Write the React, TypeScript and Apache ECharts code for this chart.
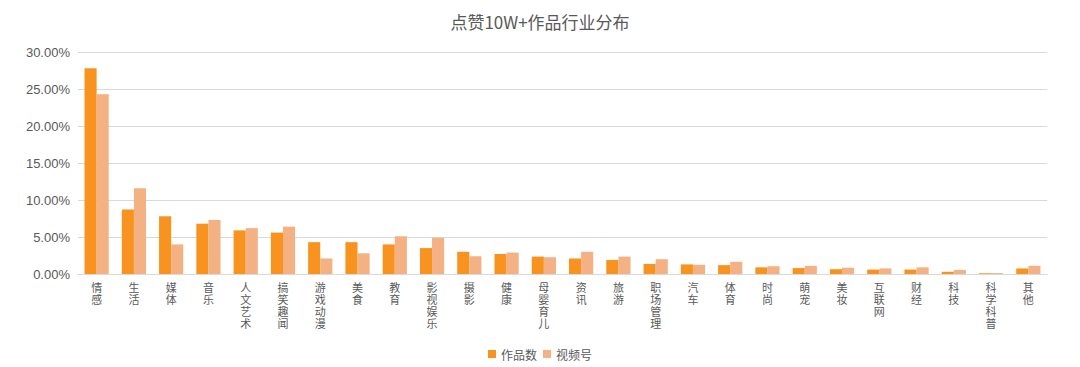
import React, { useEffect, useRef } from "react";
import * as echarts from "echarts";

const categories = ["情感","生活","媒体","音乐","人文艺术","搞笑趣闻","游戏动漫","美食","教育","影视娱乐","摄影","健康","母婴育儿","资讯","旅游","职场管理","汽车","体育","时尚","萌宠","美妆","互联网","财经","科技","科学科普","其他"];
const worksCount = [27.8,8.7,7.8,6.8,5.9,5.6,4.3,4.3,4.0,3.5,3.0,2.7,2.35,2.1,1.9,1.36,1.3,1.2,0.9,0.8,0.65,0.6,0.6,0.3,0.1,0.75];
const channels = [24.3,11.6,4.0,7.3,6.2,6.4,2.1,2.8,5.1,4.9,2.4,2.9,2.27,3.0,2.35,2.0,1.25,1.65,1.05,1.1,0.85,0.75,0.9,0.55,0.12,1.1];
const seriesNames = ["作品数", "视频号"];
const titleText = "点赞10W+作品行业分布";

export default function App() {
  const ref = useRef<HTMLDivElement>(null);
  useEffect(() => {
    const chart = echarts.init(ref.current!, undefined, { renderer: "svg" });
    const font = "'Noto Sans CJK SC', 'Noto Sans', sans-serif";
    chart.setOption({
      animation: false,
      textStyle: { fontFamily: font },
      title: {
        text: titleText,
        left: "center",
        top: 0,
        textStyle: { fontSize: 17, fontWeight: "normal", color: "#595959", fontFamily: font },
      },
      legend: {
        top: 335,
        left: "center",
        itemWidth: 8,
        itemHeight: 8,
        itemGap: 6,
        icon: "rect",
        textStyle: { fontSize: 12, color: "#595959" },
        data: seriesNames,
      },
      grid: { left: 70, right: 25, top: 44, bottom: 89, containLabel: false },
      xAxis: {
        type: "category",
        data: categories,
        axisTick: { show: false },
        axisLine: { lineStyle: { color: "#d9d9d9" } },
        axisLabel: {
          interval: 0,
          color: "#595959",
          fontSize: 11,
          lineHeight: 12,
          margin: 7,
          formatter: (v: string) => v.split("").join("\n"),
        },
      },
      yAxis: {
        type: "value",
        min: 0,
        max: 30,
        interval: 5,
        axisLine: { show: false },
        axisTick: { show: false },
        splitLine: { lineStyle: { color: "#d9d9d9" } },
        axisLabel: {
          color: "#595959",
          fontSize: 13,
          margin: 8,
          fontFamily: "'Liberation Sans', Arial, sans-serif",
          formatter: (v: number) => v.toFixed(2) + "%",
        },
      },
      series: [
        {
          name: seriesNames[0],
          type: "bar",
          data: worksCount,
          barGap: "0%",
          barCategoryGap: "35%",
          itemStyle: { color: "#F7931E" },
        },
        {
          name: seriesNames[1],
          type: "bar",
          data: channels,
          itemStyle: { color: "#F4B183" },
        },
      ],
    });
    return () => chart.dispose();
  }, []);
  return <div ref={ref} style={{ width: 1064, height: 355 }} />;
}
